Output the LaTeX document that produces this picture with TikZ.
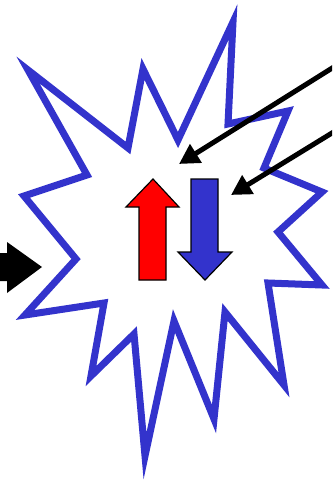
\documentclass[tikz,border=0pt]{standalone}
\usetikzlibrary{arrows.meta}
\definecolor{burstblue}{RGB}{51,51,204}
\definecolor{arrred}{RGB}{255,0,0}
\tikzset{
  burst/.style={draw=burstblue, line width=7pt, fill=white, miter limit=20, line join=miter},
  blockarrow/.style={draw=black, line width=1.2pt, line join=miter},
  pointer/.style={draw=black, line width=5pt, -{Triangle[length=20pt,width=21pt]}}
}
\begin{document}
\begin{tikzpicture}[x=1pt,y=-1pt]
\useasboundingbox (0,0) rectangle (332,481);
\clip (0,0) rectangle (332,481);
% starburst
\draw[burst] (28,70) -- (128,148) -- (143,69) -- (178,140) -- (233,22) -- (228,124)
  -- (288,111) -- (264,168) -- (322,192) -- (278,232) -- (322,285) -- (268,283)
  -- (284,385) -- (225,312) -- (214,419) -- (174,321) -- (145,456) -- (134,334)
  -- (91,376) -- (104,303) -- (25,315) -- (76,259) -- (24,196) -- (87,175) -- cycle;
% up (red) and down (blue) arrows
\draw[blockarrow, fill=arrred] (153,179) -- (179,207) -- (166,207) -- (166,280)
  -- (139,280) -- (139,207) -- (126,207) -- cycle;
\draw[blockarrow, fill=burstblue] (191,179) -- (218,179) -- (218,252) -- (232,252)
  -- (205,280) -- (178,252) -- (191,252) -- cycle;
% left block arrow
\fill[black] (-5,253) -- (7,253) -- (7,242) -- (42,267) -- (7,293) -- (7,281) -- (-5,281) -- cycle;
% pointers
\coordinate (s1) at (345,60);
\coordinate (t1) at (179,164);
\coordinate (s2) at (345,125);
\coordinate (t2) at (231,195);
\draw[pointer] (s1) -- (t1);
\draw[pointer] (s2) -- (t2);
\end{tikzpicture}
\end{document}
